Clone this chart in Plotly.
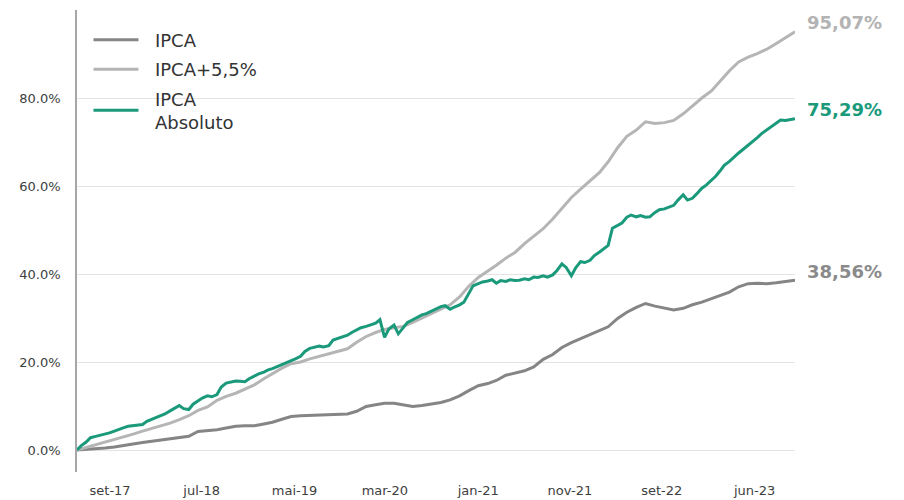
import pandas as pd
import plotly.graph_objects as go

# ---- data ----
monthly_dates = pd.date_range("2017-06-01", periods=78, freq="MS")
semi_dates = pd.date_range("2017-06-01", periods=155, freq="SMS")

ipca = [0.0, 0.1, 0.3, 0.45, 0.7, 0.95, 1.35, 1.7, 2.0, 2.3, 2.55, 2.8, 3.1, 4.2, 4.4, 4.6,
        5.0, 5.4, 5.5, 5.5, 5.9, 6.3, 7.0, 7.6, 7.8, 7.9, 8.0, 8.1, 8.1, 8.2, 8.8, 9.9,
        10.3, 10.6, 10.6, 10.3, 9.9, 10.1, 10.4, 10.8, 11.4, 12.3, 13.5, 14.6, 15.1, 15.8,
        17.0, 17.5, 18.0, 18.9, 20.6, 21.7, 23.3, 24.4, 25.3, 26.2, 27.2, 28.0, 29.9, 31.3,
        32.4, 33.3, 32.7, 32.3, 31.8, 32.2, 33.0, 33.6, 34.4, 35.0, 35.9, 37.1, 37.8, 37.9,
        37.8, 38.0, 38.3, 38.56]

ipca_55 = [0.0, 0.6, 1.1, 1.7, 2.3, 2.9, 3.6, 4.3, 4.9, 5.5, 6.1, 6.9, 7.8, 9.0, 9.8, 11.3,
           12.2, 12.9, 13.8, 14.8, 16.2, 17.4, 18.6, 19.6, 20.0, 20.7, 21.3, 21.9, 22.5, 23.0,
           24.5, 25.8, 26.7, 27.4, 27.8, 28.1, 29.0, 30.0, 31.0, 32.0, 33.0, 34.8, 37.2, 39.2,
           40.6, 42.0, 43.6, 44.9, 46.9, 48.5, 50.3, 52.5, 54.8, 57.4, 59.3, 61.2, 63.1, 65.5,
           68.7, 71.3, 72.7, 74.6, 74.2, 74.4, 74.9, 76.4, 78.2, 80.0, 81.6, 83.7, 86.2, 88.2,
           89.3, 90.1, 91.1, 92.4, 93.8, 95.07]

ipca_abs = [0.0, 1.0, 1.8, 2.8, 3.1, 3.3, 3.6, 3.9, 4.3, 4.7, 5.1, 5.4, 5.5, 5.6, 5.8, 6.5,
            7.0, 7.3, 7.7, 8.2, 8.9, 9.5, 10.1, 9.4, 9.2, 10.4, 11.2, 11.8, 12.3, 12.1, 12.6,
            14.3, 15.2, 15.4, 15.7, 15.6, 15.5, 16.2, 16.9, 17.3, 17.7, 18.2, 18.5, 18.9, 19.3,
            19.8, 20.2, 20.7, 21.3, 22.4, 23.1, 23.4, 23.6, 23.4, 23.7, 25.0, 25.4, 25.8, 26.1,
            26.7, 27.3, 27.8, 28.1, 28.4, 28.8, 29.6, 25.6, 27.5, 28.4, 26.4, 27.9, 29.0, 29.6,
            30.2, 30.7, 31.0, 31.6, 32.0, 32.6, 32.8, 32.0, 32.5, 33.0, 33.6, 35.5, 37.3, 37.8,
            38.2, 38.4, 38.7, 37.9, 38.5, 38.3, 38.7, 38.5, 38.6, 38.9, 38.7, 39.3, 39.2, 39.6,
            39.3, 39.8, 40.8, 42.3, 41.5, 39.6, 41.4, 42.8, 42.6, 43.1, 44.2, 45.0, 45.8, 46.5,
            50.4, 51.0, 51.6, 52.9, 53.4, 53.0, 53.3, 52.9, 53.0, 54.0, 54.6, 54.8, 55.2, 55.6,
            56.8, 58.0, 56.8, 57.2, 58.2, 59.5, 60.2, 61.3, 62.2, 63.4, 64.7, 65.6, 66.6, 67.5,
            68.3, 69.2, 70.1, 71.0, 71.9, 72.7, 73.5, 74.3, 75.0, 74.9, 75.1, 75.29]

series_names = ["\u00a0\u00a0IPCA", "\u00a0\u00a0IPCA+5,5%", "\u00a0\u00a0IPCA<br>\u00a0\u00a0Absoluto"]
end_labels = ["38,56%", "95,07%", "75,29%"]

x_tick_vals = ["2017-09-17", "2018-07-13", "2019-05-12", "2020-03-02",
               "2021-01-01", "2021-10-27", "2022-08-23", "2023-06-22"]
x_tick_text = ["set-17", "jul-18", "mai-19", "mar-20", "jan-21", "nov-21", "set-22", "jun-23"]
y_tick_vals = [0, 20, 40, 60, 80]
y_tick_text = ["0.0%", "20.0%", "40.0%", "60.0%", "80.0%"]

# ---- styles ----
C_IPCA = "#858585"
C_IPCA55 = "#b5b5b5"
C_ABS = "#1a9a7b"
LABEL_COLORS = ["#8a8a8a", "#b3b3b3", "#1a9a7b"]
FONT = "DejaVu Sans"

fig = go.Figure()
series = [(monthly_dates, ipca, C_IPCA), (monthly_dates, ipca_55, C_IPCA55), (semi_dates, ipca_abs, C_ABS)]
for i, ((xs, ys, col), name) in enumerate(zip(series, series_names)):
    fig.add_trace(go.Scatter(x=xs, y=ys, mode="lines", name=name, legendgroup=f"g{i}",
                             line=dict(color=col, width=3)))

for (xs, ys, col), lab, lc in zip(series, end_labels, LABEL_COLORS):
    fig.add_annotation(x=xs[-1], y=ys[-1], xref="x", yref="y", text="<b>" + lab + "</b>",
                       showarrow=False, xanchor="left", yanchor="middle", xshift=10, yshift=9,
                       font=dict(family=FONT, size=18, color=lc))

fig.update_layout(
    width=904, height=500,
    margin=dict(l=77, r=109, t=10, b=28),
    plot_bgcolor="white", paper_bgcolor="white",
    font=dict(family=FONT, color="#404040"),
    showlegend=True,
    legend=dict(x=0.016, y=0.975, xanchor="left", yanchor="top",
                font=dict(family=FONT, size=18, color="#333333"),
                bgcolor="rgba(0,0,0,0)", tracegroupgap=3, itemwidth=45),
)
fig.update_xaxes(type="date", range=["2017-06-01", "2023-11-01"],
                 tickvals=x_tick_vals, ticktext=x_tick_text, automargin=False,
                 showgrid=False, showline=False, zeroline=False,
                 ticks="outside", ticklen=6, tickcolor="rgba(0,0,0,0)",
                 tickfont=dict(family=FONT, size=13, color="#404040"))
fig.update_yaxes(range=[-5, 100], tickvals=y_tick_vals, ticktext=y_tick_text, automargin=False,
                 showgrid=True, gridcolor="#e3e3e3", gridwidth=1, zeroline=False,
                 showline=True, linecolor="#a6a6a6", linewidth=1.5,
                 ticks="outside", ticklen=12, tickcolor="rgba(0,0,0,0)",
                 tickfont=dict(family=FONT, size=13, color="#404040"))

fig.write_html("out.html", config={"displayModeBar": False},
               post_script="document.body.style.margin='0';document.body.style.overflow='hidden';")
